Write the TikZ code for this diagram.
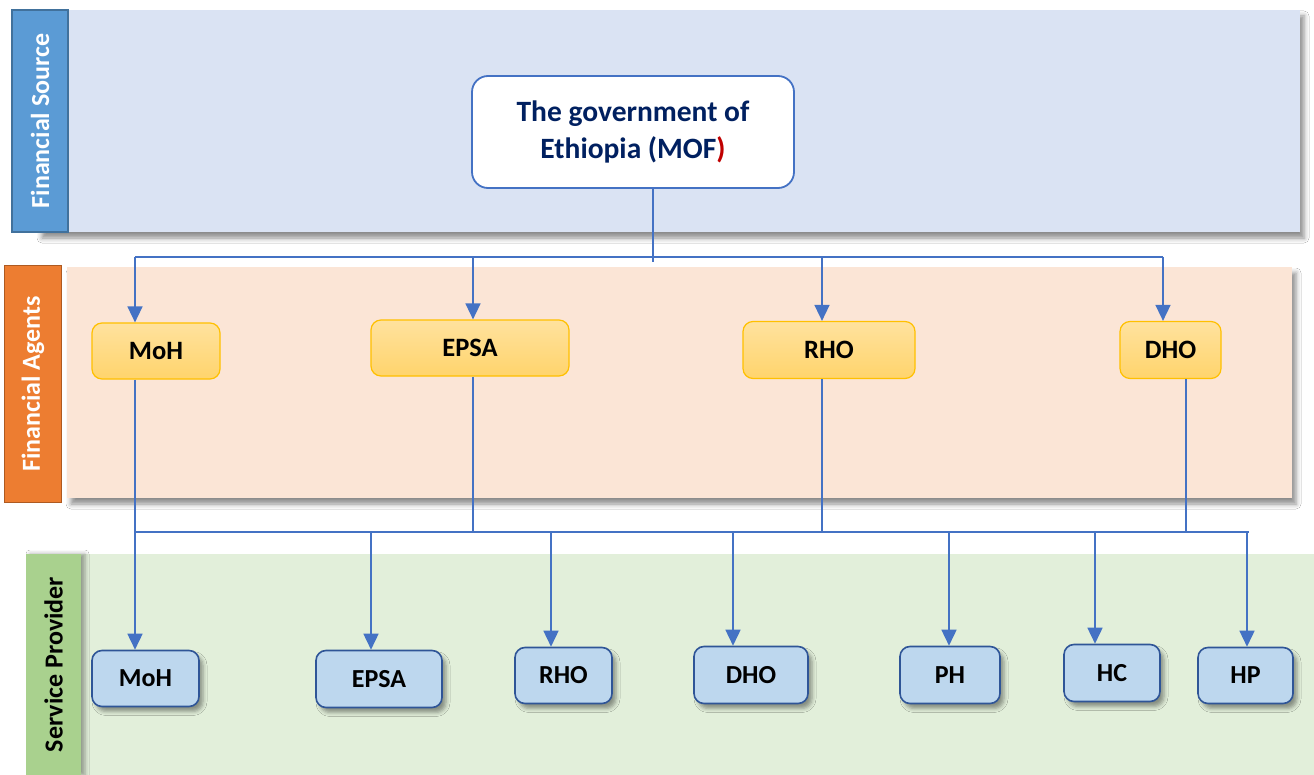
\documentclass[tikz,border=0pt]{standalone}
\usepackage{fontspec}
\setmainfont{Carlito}
\usetikzlibrary{arrows.meta,shadows.blur}
\definecolor{srcbg}{HTML}{DAE3F3}
\definecolor{srclab}{HTML}{5B9BD5}
\definecolor{srcedge}{HTML}{41719C}
\definecolor{agbg}{HTML}{FBE5D6}
\definecolor{aglab}{HTML}{ED7D31}
\definecolor{agedge}{HTML}{AE5A21}
\definecolor{spbg}{HTML}{E2EFDA}
\definecolor{splab}{HTML}{A9D18E}
\definecolor{conn}{HTML}{4472C4}
\definecolor{mofblue}{HTML}{002060}
\definecolor{mofred}{HTML}{C00000}
\definecolor{agtop}{HTML}{FFE29E}
\definecolor{agbot}{HTML}{FFD46C}
\definecolor{agborder}{HTML}{FFC000}
\definecolor{spfill}{HTML}{BDD7EE}
\definecolor{spborder}{HTML}{2F5597}
\tikzset{
  bandshadow/.style={blur shadow={shadow xshift=4pt,shadow yshift=-6pt,shadow blur radius=5pt,shadow opacity=45}},
  bandlabel/.style={rectangle,anchor=center,inner sep=0pt},
  labeltext/.style={font=\fontsize{26}{30}\selectfont\bfseries,rotate=90},
  agentbox/.style={rectangle,rounded corners=10pt,draw=agborder,line width=1.2pt,top color=agtop,bottom color=agbot,
    font=\fontsize{26.5}{30}\selectfont\bfseries,text=black,inner sep=0pt},
  provbox/.style={rectangle,rounded corners=10pt,draw=spborder,line width=1.6pt,fill=spfill,
    font=\fontsize{26}{30}\selectfont\bfseries,text=black,inner sep=0pt,
    blur shadow={shadow xshift=4pt,shadow yshift=-5pt,shadow blur radius=4pt,shadow opacity=40}},
  link/.style={draw=conn,line width=1.6pt},
  arr/.style={link,-{Triangle[width=15pt,length=16pt]}}
}
\begin{document}
\begin{tikzpicture}[x=1pt,y=-1pt]
\useasboundingbox (0,0) rectangle (1314,775);
% ---- bands
\fill[white] (0,0) rectangle (1314,775);
\fill[srcbg,bandshadow] (38,10) rectangle (1300,232);
\fill[agbg,bandshadow] (67,267) rectangle (1292,498);
\fill[spbg] (81,554) rectangle (1314,775);
\node[bandlabel,fill=srclab,draw=srcedge,line width=1.5pt,minimum width=56pt,minimum height=222pt] (lsrc) at (40,121) {};
\node[labeltext,text=white] (tsrc) at (lsrc.center) {Financial Source};
\node[bandlabel,fill=aglab,draw=agedge,line width=1.5pt,minimum width=57pt,minimum height=237pt] (lag) at (33,384) {};
\node[labeltext,text=white] (tag) at (lag.center) {Financial Agents};
\node[bandlabel,fill=splab,minimum width=55pt,minimum height=221pt,
  blur shadow={shadow xshift=4pt,shadow yshift=0pt,shadow blur radius=4pt,shadow opacity=35}] (lsp) at (53.5,664.5) {};
\node[labeltext,text=black] (tsp) at (lsp.center) {Service Provider};
% ---- source
\node[rectangle,rounded corners=16pt,draw=conn,line width=1.8pt,fill=white,minimum width=322pt,minimum height=112pt,
  align=center,text=mofblue,font=\fontsize{29.5}{37}\selectfont\bfseries] (mof) at (633,132)
  {The government of\\Ethiopia (MOF\textcolor{mofred}{)}};
% ---- agents
\node[agentbox,minimum width=128pt,minimum height=56pt] (aMoH) at (156,351) {MoH};
\node[agentbox,minimum width=198pt,minimum height=56pt] (aEPSA) at (470,348) {EPSA};
\node[agentbox,minimum width=172pt,minimum height=57pt] (aRHO) at (829,350) {RHO};
\node[agentbox,minimum width=101pt,minimum height=57pt] (aDHO) at (1170.5,350) {DHO};
% ---- providers
\node[provbox,minimum width=107pt,minimum height=56pt] (pMoH) at (145.5,678.5) {MoH};
\node[provbox,minimum width=126pt,minimum height=57pt] (pEPSA) at (379,679) {EPSA};
\node[provbox,minimum width=97pt,minimum height=56pt] (pRHO) at (563.5,675.5) {RHO};
\node[provbox,minimum width=114pt,minimum height=57pt] (pDHO) at (751,675) {DHO};
\node[provbox,minimum width=100pt,minimum height=57pt] (pPH) at (950,675) {PH};
\node[provbox,minimum width=96pt,minimum height=57pt] (pHC) at (1112,673) {HC};
\node[provbox,minimum width=95pt,minimum height=56pt] (pHP) at (1245.5,675.5) {HP};
% ---- upper connector tree
\coordinate (mofend) at (653,262);
\coordinate (tMoH) at (135,257);
\coordinate (tEPSA) at (473,257);
\coordinate (tRHO) at (822,257);
\coordinate (tDHO) at (1163,257);
\draw[link] (mofend |- mof.south) -- (mofend);
\draw[link] (tMoH) -- (tDHO);
\draw[arr] (tMoH) -- (tMoH |- aMoH.north);
\draw[arr] (tEPSA) -- (tEPSA |- aEPSA.north);
\draw[arr] (tRHO) -- (tRHO |- aRHO.north);
\draw[arr] (tDHO) -- (tDHO |- aDHO.north);
% ---- lower connector tree
\coordinate (bL) at (135,532);
\coordinate (bR) at (1249,532);
\coordinate (bEPSA) at (371,532);
\coordinate (bRHO) at (551,532);
\coordinate (bDHO) at (733,532);
\coordinate (bPH) at (949,532);
\coordinate (bHC) at (1095,532);
\coordinate (bHP) at (1247,532);
\coordinate (jEPSA) at (473,532);
\coordinate (jRHO) at (822,532);
\coordinate (jDHO) at (1186,532);
\draw[link] (bL) -- (bR);
\draw[arr] (bL |- aMoH.south) -- (bL |- pMoH.north);
\draw[link] (jEPSA |- aEPSA.south) -- (jEPSA);
\draw[link] (jRHO |- aRHO.south) -- (jRHO);
\draw[link] (jDHO |- aDHO.south) -- (jDHO);
\draw[arr] (bEPSA) -- (bEPSA |- pEPSA.north);
\draw[arr] (bRHO) -- (bRHO |- pRHO.north);
\draw[arr] (bDHO) -- (bDHO |- pDHO.north);
\draw[arr] (bPH) -- (bPH |- pPH.north);
\draw[arr] (bHC) -- (bHC |- pHC.north);
\draw[arr] (bHP) -- (bHP |- pHP.north);
\end{tikzpicture}
\end{document}
